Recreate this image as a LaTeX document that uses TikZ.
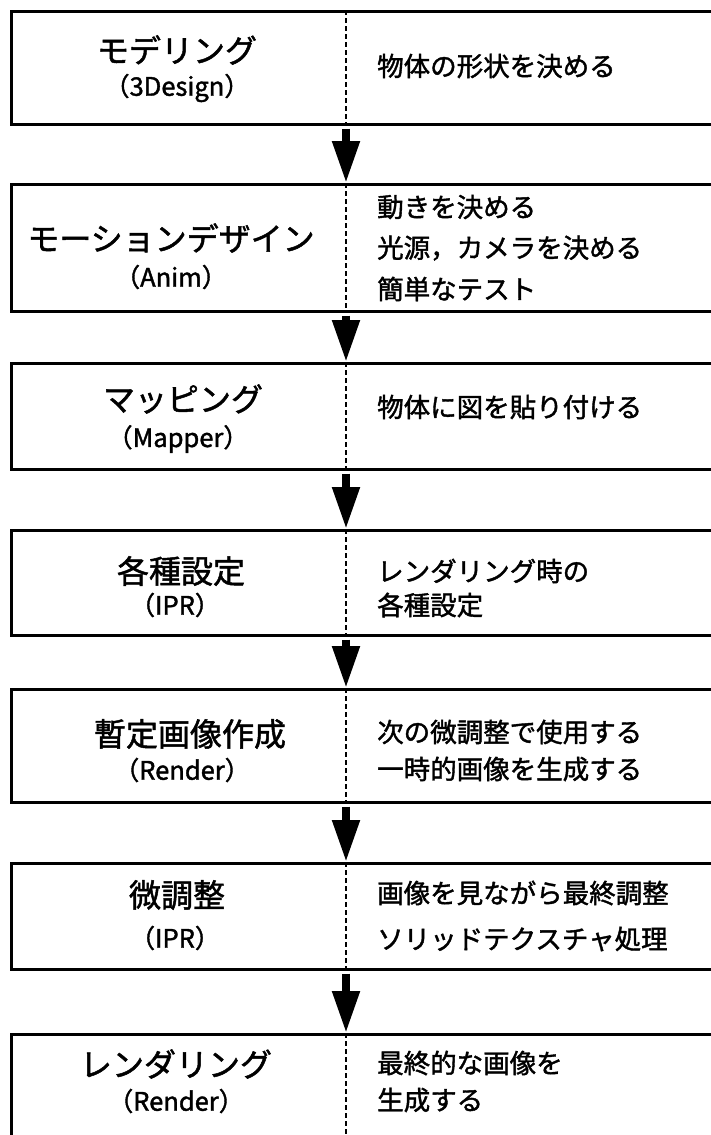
\documentclass[tikz,border=0pt]{standalone}
\usepackage{fontspec}
\setmainfont{Noto Sans CJK JP}[FakeBold=1.5]
\usetikzlibrary{arrows.meta}
\begin{document}
\begin{tikzpicture}[x=1pt,y=-1pt,
  stagebox/.style={draw, line width=2.6pt, rectangle, anchor=north west, minimum width=730pt, inner sep=0pt},
  ttl/.style={font=\fontsize{32}{32}\selectfont, inner sep=0pt},
  sublbl/.style={font=\fontsize{25.5}{25.5}\selectfont, inner sep=0pt},
  desc/.style={font=\fontsize{26.5}{26.5}\selectfont, inner sep=0pt, anchor=west},
  divline/.style={line width=2.6pt, dash pattern=on 5pt off 3pt},
  flow/.style={line width=8pt, -{Triangle[width=26pt,length=42pt]}}]
\useasboundingbox (0,0) rectangle (711,1135);
\clip (0,0) rectangle (711,1135);
\coordinate (dx) at (346,0);

% boxes
\node[stagebox, minimum height=113pt] (b1) at (10,10) {};
\node[stagebox, minimum height=127pt] (b2) at (10,183) {};
\node[stagebox, minimum height=106pt] (b3) at (10,362) {};
\node[stagebox, minimum height=105pt] (b4) at (10,529) {};
\node[stagebox, minimum height=113pt] (b5) at (10,688) {};
\node[stagebox, minimum height=106pt] (b6) at (10,862) {};
\node[stagebox, minimum height=112pt] (b7) at (10,1033) {};

% dashed dividers
\foreach \b in {b1,b2,b3,b4,b5,b6,b7}
  \draw[divline] (\b.north -| dx) -- (\b.south -| dx);

% arrows
\draw[flow] ([yshift=-3pt]b1.south -| dx) -- (b2.north -| dx);
\draw[flow] ([yshift=-3pt]b2.south -| dx) -- (b3.north -| dx);
\draw[flow] ([yshift=-3pt]b3.south -| dx) -- (b4.north -| dx);
\draw[flow] ([yshift=-3pt]b4.south -| dx) -- (b5.north -| dx);
\draw[flow] ([yshift=-3pt]b5.south -| dx) -- (b6.north -| dx);
\draw[flow] ([yshift=-3pt]b6.south -| dx) -- (b7.north -| dx);

% box 1
\node[ttl] (t1) at (177,50) {モデリング};
\node[sublbl] (s1) at (177,88) {（3Design）};
\node[desc] (d1a) at (377,66) {物体の形状を決める};
% box 2
\node[ttl] (t2) at (171,238) {モーションデザイン};
\node[sublbl] (s2) at (171,277) {（Anim）};
\node[desc] (d2a) at (377,207) {動きを決める};
\node[desc] (d2b) at (377,248) {光源，カメラを決める};
\node[desc] (d2c) at (377,289) {簡単なテスト};
% box 3
\node[ttl] (t3) at (183,399) {マッピング};
\node[sublbl] (s3) at (178,439) {（Mapper）};
\node[desc] (d3a) at (377,407) {物体に図を貼り付ける};
% box 4
\node[ttl] (t4) at (181,571) {各種設定};
\node[sublbl] (s4) at (175,605) {（IPR）};
\node[desc] (d4a) at (377,571) {レンダリング時の};
\node[desc] (d4b) at (377,605) {各種設定};
% box 5
\node[ttl] (t5) at (190,734) {暫定画像作成};
\node[sublbl] (s5) at (182,770) {（Render）};
\node[desc] (d5a) at (377,732) {次の微調整で使用する};
\node[desc] (d5b) at (377,769) {一時的画像を生成する};
% box 6
\node[ttl] (t6) at (177,895) {微調整};
\node[sublbl] (s6) at (175,938) {（IPR）};
\node[desc] (d6a) at (377,893) {画像を見ながら最終調整};
\node[desc] (d6b) at (377,939) {ソリッドテクスチャ処理};
% box 7
\node[ttl] (t7) at (176,1064) {レンダリング};
\node[sublbl] (s7) at (176,1101) {（Render）};
\node[desc] (d7a) at (377,1063) {最終的な画像を};
\node[desc] (d7b) at (377,1100) {生成する};
\end{tikzpicture}
\end{document}
